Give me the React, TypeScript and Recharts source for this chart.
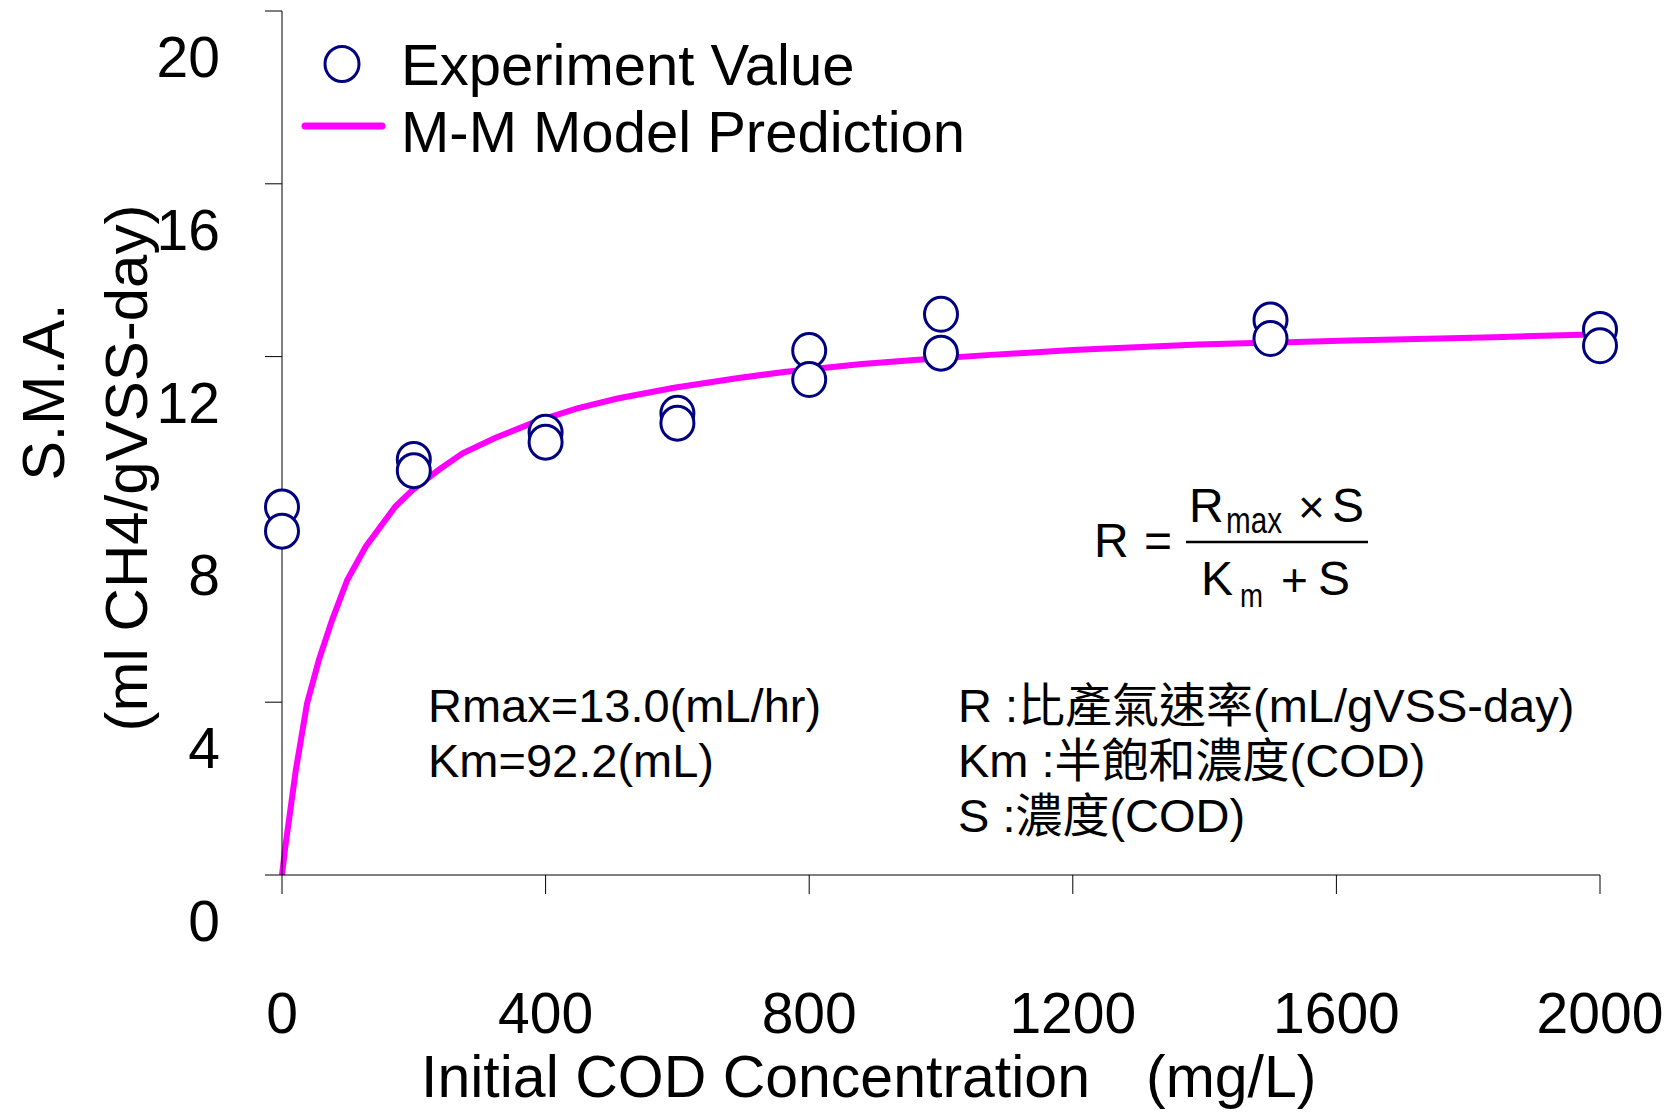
import { ComposedChart, Line, Scatter, XAxis, YAxis } from "recharts";

const W = 1679;
const H = 1112;
const FONT = "'Liberation Sans', Arial, sans-serif";
const CJK = "'Liberation Sans', 'Noto Sans CJK TC', sans-serif";
const NAVY = "#000080";
const MAGENTA = "#FF00FF";

// axis ticks
const codTicks = [0, 400, 800, 1200, 1600, 2000];
const smaTicks = [0, 4, 8, 12, 16, 20];

// experiment: two replicates per initial COD level (mg/L)
const codLevels = [0, 200, 400, 600, 800, 1000, 1500, 2000];
const smaHigh = [8.52, 9.62, 10.25, 10.69, 12.14, 12.98, 12.85, 12.63];
const smaLow = [7.96, 9.36, 10.02, 10.46, 11.47, 12.08, 12.42, 12.25];

// M-M model prediction curve
const modelCod = [
  0, 5, 21, 38, 56, 76, 99, 127, 172, 198, 238, 274, 324, 386, 448, 509, 595,
  690, 765, 880, 960, 1075, 1200, 1390, 1620, 1840, 2000,
];
const modelSma = [
  0, 0.65, 2.43, 3.97, 4.98, 5.9, 6.83, 7.6, 8.53, 8.91, 9.38, 9.76, 10.12,
  10.5, 10.8, 11.03, 11.28, 11.5, 11.65, 11.83, 11.92, 12.04, 12.15, 12.28,
  12.37, 12.45, 12.52,
];

const points = codLevels.flatMap((c, i) => [
  { x: c, y: smaHigh[i] },
  { x: c, y: smaLow[i] },
]);
const model = modelCod.map((c, i) => ({ x: c, y: modelSma[i] }));

const YTick = (p: any) => (
  <text
    x={p.x - 45}
    y={p.y + 66}
    textAnchor="end"
    fontSize={57}
    fontFamily={FONT}
    fill="#000"
  >
    {p.payload.value}
  </text>
);

const XTick = (p: any) => (
  <text
    x={p.x}
    y={p.y + 139}
    textAnchor="middle"
    fontSize={57}
    fontFamily={FONT}
    fill="#000"
  >
    {p.payload.value}
  </text>
);

const Circle = (p: any) => (
  <ellipse
    cx={p.cx}
    cy={p.cy}
    rx={16.5}
    ry={17}
    fill="#fff"
    stroke={NAVY}
    strokeWidth={3}
  />
);

// titles, legend, equation and notes on top of the plot
function Overlay() {
  return (
    <svg
      width={W}
      height={H}
      style={{ position: "absolute", left: 0, top: 0, pointerEvents: "none" }}
      fontFamily={FONT}
    >
      {/* legend */}
      <ellipse cx={342} cy={64} rx={17} ry={17.5} fill="#fff" stroke={NAVY} strokeWidth={3} />
      <text x={401} y={85} fontSize={58}>Experiment Value</text>
      <line x1={305} y1={126} x2={382} y2={126} stroke={MAGENTA} strokeWidth={7} strokeLinecap="round" />
      <text x={401} y={152} fontSize={58}>M-M Model Prediction</text>

      {/* axis titles */}
      <text x={64} y={392} fontSize={59} textAnchor="middle" transform="rotate(-90 64 392)">
        S.M.A.
      </text>
      <text x={147} y={468} fontSize={60} textAnchor="middle" transform="rotate(-90 147 468)">
        (ml CH4/gVSS-day)
      </text>
      <text x={421} y={1097} fontSize={59}>Initial COD Concentration</text>
      <text x={1146} y={1097} fontSize={59}>(mg/L)</text>

      {/* R = Rmax x S / (Km + S) */}
      <text x={1094} y={557} fontSize={48}>R</text>
      <text x={1144} y={557} fontSize={48}>=</text>
      <line x1={1186} y1={542} x2={1368} y2={542} stroke="#000" strokeWidth={2.5} />
      <text x={1189} y={522} fontSize={48}>R</text>
      <text x={1226} y={533} fontSize={36} textLength={56} lengthAdjust="spacingAndGlyphs">max</text>
      <text x={1298} y={523} fontSize={46}>×</text>
      <text x={1332} y={522} fontSize={48}>S</text>
      <text x={1201} y={595} fontSize={48}>K</text>
      <text x={1240} y={607} fontSize={34} textLength={23} lengthAdjust="spacingAndGlyphs">m</text>
      <text x={1281} y={596} fontSize={46}>+</text>
      <text x={1318} y={595} fontSize={48}>S</text>

      {/* fitted constants */}
      <text x={428} y={722} fontSize={47}>Rmax=13.0(mL/hr)</text>
      <text x={428} y={777} fontSize={47}>Km=92.2(mL)</text>

      {/* symbol notes */}
      <g fontFamily={CJK} fontSize={47}>
        <text x={958} y={722}>R :比產氣速率(mL/gVSS-day)</text>
        <text x={958} y={777}>Km :半飽和濃度(COD)</text>
        <text x={958} y={832}>S :濃度(COD)</text>
      </g>
    </svg>
  );
}

export default function App() {
  return (
    <div
      style={{
        position: "absolute",
        left: 0,
        top: 0,
        width: W,
        height: H,
        background: "#fff",
      }}
    >
      <ComposedChart
        width={W}
        height={H}
        margin={{ top: 11, right: 79, bottom: 177, left: 222 }}
      >
        <XAxis
          type="number"
          dataKey="x"
          domain={[0, 2000]}
          ticks={codTicks}
          height={60}
          tickSize={19}
          tickMargin={0}
          stroke="#000"
          tick={XTick}
          interval={0}
        />
        <YAxis
          type="number"
          dataKey="y"
          domain={[0, 20]}
          ticks={smaTicks}
          width={60}
          tickSize={17}
          tickMargin={0}
          stroke="#000"
          tick={YTick}
          interval={0}
        />
        <Line
          data={model}
          dataKey="y"
          type="linear"
          stroke={MAGENTA}
          strokeWidth={6}
          dot={false}
          activeDot={false}
          isAnimationActive={false}
        />
        <Scatter
          data={points}
          dataKey="y"
          shape={Circle}
          isAnimationActive={false}
        />
      </ComposedChart>
      <Overlay />
    </div>
  );
}
